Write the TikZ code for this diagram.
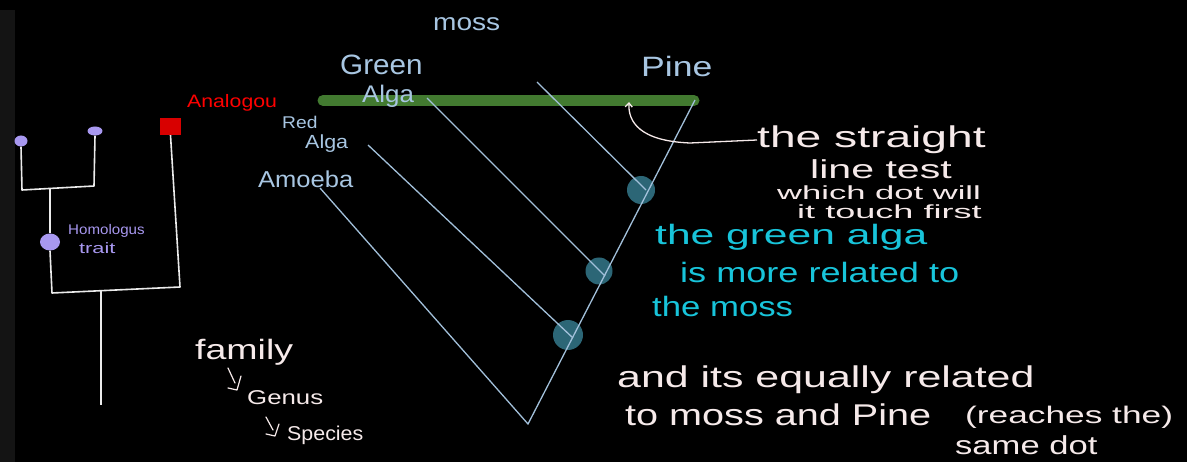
\documentclass[tikz,border=0pt]{standalone}
\usepackage{fontspec}
\setmainfont{Liberation Sans}
\usetikzlibrary{arrows.meta,shapes.geometric}
\definecolor{lblue}{HTML}{A8C6E2}
\definecolor{vline}{HTML}{A2C0DA}
\definecolor{tealdot}{HTML}{2C6676}
\definecolor{barg}{HTML}{427A30}
\definecolor{chalk}{HTML}{F6EAEA}
\definecolor{cyanw}{HTML}{18C4DA}
\definecolor{lav}{HTML}{A898F0}
\definecolor{redsq}{HTML}{D80000}
\definecolor{strip}{HTML}{141414}
\newcommand{\fsz}[1]{\fontsize{#1}{#1}\selectfont}
\newcommand{\hsq}[2]{\scalebox{#1}[1]{#2}}
\tikzset{
  txt/.style={inner sep=0pt, anchor=west},
  lbl/.style={txt, text=lblue},
  note/.style={txt, text=chalk},
  cy/.style={txt, text=cyanw},
  tree/.style={draw=white!92!black, line width=1.6pt, line join=round},
  vl/.style={draw=vline, line width=1.3pt},
  tdot/.style={circle, fill=tealdot, inner sep=0pt},
  ldot/.style={ellipse, fill=lav, inner sep=0pt},
}
\begin{document}
\begin{tikzpicture}[x=1pt,y=-1pt]
\fill[black] (0,0) rectangle (1187,462);
\useasboundingbox (0,0) rectangle (1187,462);
\fill[strip] (0,10) rectangle (15,462);

% ---- left tree ----
\node[ldot, minimum width=13pt, minimum height=11pt] (ta) at (21,141) {};
\node[ldot, minimum width=15pt, minimum height=9pt] (tb) at (95,131) {};
\node[ldot, minimum width=20pt, minimum height=17pt] (hd) at (50,242) {};
\node[fill=redsq, minimum width=21pt, minimum height=17pt, inner sep=0pt] (rs) at (170.5,126.5) {};
\coordinate (j1) at (50,188);
\coordinate (j2) at (101,290);
\draw[tree] (ta.south) -- (22,190) -- (94,186) -- (tb.south);
\draw[tree] (j1) -- (hd.north);
\draw[tree] (hd.south) -- (52,293) -- (180,287) -- (rs.south);
\coordinate (rootend) at (101,405);
\draw[tree] (j2) -- (rootend);
\node[txt, text=lav] (homo) at (68,231) {\fsz{14}\hsq{1.08}{Homologus}};
\node[txt, text=lav] (trait) at (79,248) {\fsz{15}\hsq{1.45}{trait}};
\node[txt, text=red] (analog) at (187,103) {\fsz{18}\hsq{1.18}{Analogou}};

% ---- cladogram ----
\draw[barg, line width=11pt, line cap=round] (323,100.5) -- (694,100.5);
\node[tdot, minimum size=28pt] (d1) at (641,190) {};
\node[tdot, minimum size=27pt] (d2) at (599,271) {};
\node[tdot, minimum size=30pt] (d3) at (568,335) {};
\coordinate (vtop) at (695,100);
\coordinate (vbot) at (528,424);
\coordinate (vleft) at (320,188);
\coordinate (l1s) at (537,82);   \coordinate (l1e) at (646,190);
\coordinate (l2s) at (427,98);   \coordinate (l2e) at (605,276);
\coordinate (l3s) at (368,145);  \coordinate (l3e) at (573,338);
\draw[vl] (vleft) -- (vbot) -- (vtop);
\draw[vl] (l1s) -- (l1e);
\draw[vl] (l2s) -- (l2e);
\draw[vl] (l3s) -- (l3e);

\node[lbl] (moss) at (433,24) {\fsz{24}\hsq{1.17}{moss}};
\node[lbl] (green) at (340,65) {\fsz{28}\hsq{1.06}{Green}};
\node[lbl] (alga1) at (362,96) {\fsz{24}\hsq{1.08}{Alga}};
\node[lbl] (pine) at (641,66) {\fsz{28}\hsq{1.27}{Pine}};
\node[lbl] (red) at (282,122) {\fsz{17}\hsq{1.13}{Red}};
\node[lbl] (alga2) at (305,144) {\fsz{19}\hsq{1.13}{Alga}};
\node[lbl] (amoeba) at (258,179) {\fsz{23}\hsq{1.11}{Amoeba}};

% ---- notes ----
\node[note] (st) at (757,140) {\fsz{30}\hsq{1.54}{the straight}};
\node[note] (lt) at (810,169) {\fsz{26}\hsq{1.58}{line test}};
\node[note] (wd) at (777,193) {\fsz{19}\hsq{1.82}{which dot will}};
\node[note] (tf) at (797,212) {\fsz{19}\hsq{1.9}{it touch first}};
\draw[chalk, line width=1.3pt, -{Straight Barb[length=4pt,width=7pt]}]
  (st.west) -- (690,143) .. controls (640,141) and (628,122) .. (629,102);

\node[cy] (c1) at (655,237) {\fsz{28}\hsq{1.52}{the green alga}};
\node[cy] (c2) at (680,272) {\fsz{28}\hsq{1.29}{is more related to}};
\node[cy] (c3) at (652,306) {\fsz{28}\hsq{1.24}{the moss}};

\node[note] (e1) at (617,380) {\fsz{30}\hsq{1.43}{and its equally related}};
\node[note] (e2) at (625,415) {\fsz{30}\hsq{1.32}{to moss and Pine}};
\node[note] (e3) at (965,417) {\fsz{24}\hsq{1.47}{(reaches the)}};
\node[note] (e4) at (955,445) {\fsz{26}\hsq{1.33}{same dot}};

\node[note] (fam) at (195,352) {\fsz{28}\hsq{1.34}{family}};
\node[note] (gen) at (247,398) {\fsz{20}\hsq{1.29}{Genus}};
\node[note] (spe) at (287,435) {\fsz{20}\hsq{1.07}{Species}};
\draw[chalk, line width=1.2pt, line cap=round, line join=round]
  (228,368) -- (235,383) (241,376) -- (237,390) -- (228,388);
\draw[chalk, line width=1.2pt, line cap=round, line join=round]
  (266,417) -- (273,430) (279,424) -- (275,436) -- (266,434);
\end{tikzpicture}
\end{document}
